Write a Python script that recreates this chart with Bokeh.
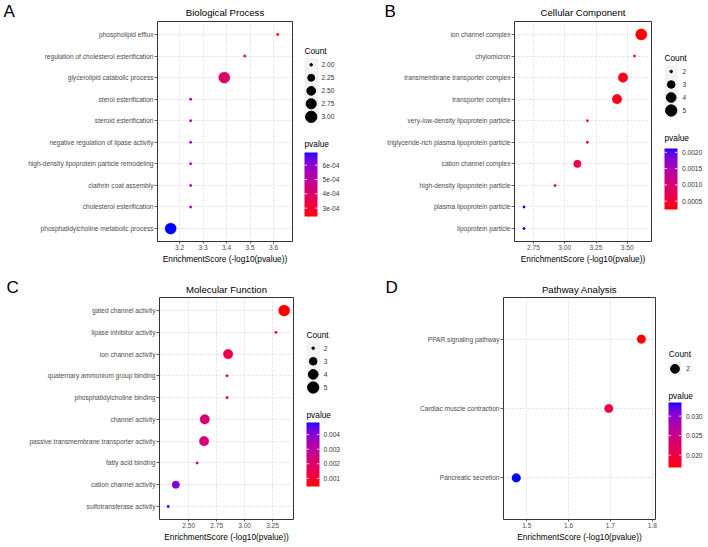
import numpy as np
from bokeh.plotting import figure
from bokeh.models import (Range1d, FixedTicker, PrintfTickFormatter,
                          LinearColorMapper, ColumnDataSource)
from bokeh.layouts import row, column
from bokeh.core.properties import value
from bokeh.embed import file_html
from bokeh.resources import INLINE

FONT = "Liberation Sans"

# ---------------- data ----------------
bp_terms = ["phospholipid efflux", "regulation of cholesterol esterification",
            "glycerolipid catabolic process", "sterol esterification", "steroid esterification",
            "negative regulation of lipase activity", "high-density lipoprotein particle remodeling",
            "clathrin coat assembly", "cholesterol esterification",
            "phosphatidylcholine metabolic process"]
bp_score = [3.617, 3.477, 3.390, 3.247, 3.247, 3.247, 3.247, 3.247, 3.247, 3.162]
bp_count = [2, 2, 3, 2, 2, 2, 2, 2, 2, 3]
bp_xticks = [3.2, 3.3, 3.4, 3.5, 3.6]
bp_count_breaks = [2.0, 2.25, 2.5, 2.75, 3.0]
bp_p_ticks = [3e-4, 4e-4, 5e-4, 6e-4]

cc_terms = ["ion channel complex", "chylomicron", "transmembrane transporter complex",
            "transporter complex", "very-low-density lipoprotein particle",
            "triglyceride-rich plasma lipoprotein particle", "cation channel complex",
            "high-density lipoprotein particle", "plasma lipoprotein particle",
            "lipoprotein particle"]
cc_score = [3.612, 3.558, 3.466, 3.418, 3.181, 3.181, 3.101, 2.922, 2.674, 2.674]
cc_count = [5, 2, 4, 4, 2, 2, 3, 2, 2, 2]
cc_xticks = [2.75, 3.00, 3.25, 3.50]
cc_count_breaks = [2, 3, 4, 5]
cc_p_ticks = [0.0005, 0.0010, 0.0015, 0.0020]

mf_terms = ["gated channel activity", "lipase inhibitor activity", "ion channel activity",
            "quaternary ammonium group binding", "phosphatidylcholine binding",
            "channel activity", "passive transmembrane transporter activity",
            "fatty acid binding", "cation channel activity", "sulfotransferase activity"]
mf_score = [3.354, 3.280, 2.852, 2.843, 2.843, 2.643, 2.637, 2.575, 2.384, 2.316]
mf_count = [5, 2, 4, 2, 2, 4, 4, 2, 3, 2]
mf_xticks = [2.50, 2.75, 3.00, 3.25]
mf_count_breaks = [2, 3, 4, 5]
mf_p_ticks = [0.001, 0.002, 0.003, 0.004]

kg_terms = ["PPAR signaling pathway", "Cardiac muscle contraction", "Pancreatic secretion"]
kg_score = [1.774, 1.696, 1.475]
kg_count = [2, 2, 2]
kg_xticks = [1.5, 1.6, 1.7, 1.8]
kg_count_breaks = [2]
kg_p_ticks = [0.020, 0.025, 0.030]

titles = ["Biological Process", "Cellular Component", "Molecular Function", "Pathway Analysis"]
letters = ["A", "B", "C", "D"]
X_LABEL = "EnrichmentScore (-log10(pvalue))"


# ---------------- colour gradient (Lab interpolation, like ggplot) ----------------
M = np.array([[0.4124564, 0.3575761, 0.1804375],
              [0.2126729, 0.7151522, 0.0721750],
              [0.0193339, 0.1191920, 0.9503041]])
MI = np.linalg.inv(M)
WHITE = np.array([0.95047, 1.0, 1.08883])


def hex_to_lab(h):
    rgb = np.array([int(h[i:i + 2], 16) for i in (1, 3, 5)]) / 255.0
    lin = np.where(rgb <= 0.04045, rgb / 12.92, ((rgb + 0.055) / 1.055) ** 2.4)
    xyz = M @ lin / WHITE
    f = np.where(xyz > 0.008856, np.cbrt(xyz), 7.787 * xyz + 16 / 116)
    return np.array([116 * f[1] - 16, 500 * (f[0] - f[1]), 200 * (f[1] - f[2])])


def lab_to_hex(lab):
    fy = (lab[0] + 16) / 116
    fx = fy + lab[1] / 500
    fz = fy - lab[2] / 200
    f = np.array([fx, fy, fz])
    xyz = np.where(f ** 3 > 0.008856, f ** 3, (f - 16 / 116) / 7.787) * WHITE
    lin = np.clip(MI @ xyz, 0, 1)
    rgb = np.where(lin <= 0.0031308, 12.92 * lin, 1.055 * lin ** (1 / 2.4) - 0.055)
    rgb = np.clip(np.round(rgb * 255), 0, 255).astype(int)
    return "#%02x%02x%02x" % tuple(rgb)


LO, HI = hex_to_lab("#ff0000"), hex_to_lab("#0000ff")
PALETTE = [lab_to_hex(LO + (HI - LO) * t) for t in np.linspace(0, 1, 256)]


def size_of(c, cmin, cmax):
    t = 0.5 if cmax == cmin else (c - cmin) / (cmax - cmin)
    return 1.75 * (1 + 5 * np.sqrt(t)) + 0.8


def blank(x0, w, fig_y, fig_h, top, bottom):
    """Axis-free figure whose frame maps page pixels (x0..x0+w, top..bottom)."""
    q = figure(width=w, height=fig_h, x_range=Range1d(x0, x0 + w),
               y_range=Range1d(bottom, top), x_axis_type=None, y_axis_type=None,
               output_backend="svg", toolbar_location=None, title=None,
               min_border_left=0, min_border_right=0,
               min_border_top=top - fig_y, min_border_bottom=fig_y + fig_h - bottom)
    q.outline_line_color = None
    return q


TXT = dict(text_font=value(FONT), text_baseline="middle", text_align="left")


def build(terms, score, count, xticks, xfmt, xr, fig_box, frame_box, leg_box, leg,
          count_breaks, count_fmt, p_ticks, p_fmt):
    n = len(terms)
    ypos = [n - 1 - i for i in range(n)]
    pv = [10 ** (-s) for s in score]
    pmin, pmax = min(pv), max(pv)
    cmin, cmax = min(count), max(count)
    mapper = LinearColorMapper(palette=PALETTE, low=pmin, high=pmax)
    src = ColumnDataSource(dict(x=score, y=ypos, p=pv,
                                s=[size_of(c, cmin, cmax) for c in count]))
    fx, fy, fw, fh = fig_box
    fl, ft, fr, fb = frame_box
    p = figure(width=fw, height=fh, x_range=Range1d(*xr), y_range=Range1d(-0.6, n - 0.4),
               output_backend="svg", toolbar_location=None, title=None,
               min_border_left=fl - fx, min_border_right=fx + fw - fr,
               min_border_top=ft - fy, min_border_bottom=fy + fh - fb)
    p.xaxis.ticker = FixedTicker(ticks=xticks)
    p.xaxis.formatter = PrintfTickFormatter(format=xfmt)
    p.yaxis.ticker = FixedTicker(ticks=ypos)
    p.yaxis.major_label_overrides = {y: t for y, t in zip(ypos, terms)}
    for ax in (p.xaxis[0], p.yaxis[0]):
        ax.axis_line_color = None
        ax.major_tick_line_color = "#333333"
        ax.major_tick_line_width = 0.8
        ax.major_tick_in = 0
        ax.minor_tick_line_color = None
        ax.major_label_text_font = FONT
        ax.major_label_text_font_size = "6.6px"
        ax.major_label_text_color = "#4D4D4D"
    p.yaxis.major_tick_out = 3
    p.yaxis.major_label_standoff = 1
    p.xaxis.major_tick_out = 2
    p.xaxis.major_label_standoff = 1
    p.xaxis.axis_label = X_LABEL
    p.xaxis.axis_label_text_font = FONT
    p.xaxis.axis_label_text_font_size = "8.3px"
    p.xaxis.axis_label_text_font_style = "normal"
    p.xaxis.axis_label_text_color = "black"
    p.xaxis.axis_label_standoff = 1
    for g in (p.xgrid[0], p.ygrid[0]):
        g.grid_line_color = "#C8C8C8"
        g.grid_line_dash = "2 2"
        g.grid_line_width = 0.6
    p.outline_line_color = "#333333"
    p.outline_line_width = 1
    p.scatter("x", "y", source=src, size="s",
              fill_color={"field": "p", "transform": mapper},
              line_color={"field": "p", "transform": mapper}, line_width=0.3)

    # ---- legend figure (frame mapped to page pixels, same vertical frame as panel) ----
    lx, lw = leg_box
    q = blank(lx, lw, fy, fh, ft, fb)
    q.text(x=[leg["ct"][0]], y=[leg["ct"][1]], text=["Count"], text_font_size="8.3px",
           text_color="black", **TXT)
    k = len(count_breaks)
    ky = [leg["ky0"] + i * leg["kstep"] for i in range(k)]
    half = leg["kstep"] / 2
    q.quad(left=[leg["bg"][0]], right=[leg["bg"][1]], top=[ky[0] - half], bottom=[ky[-1] + half],
           fill_color="#F2F2F2", line_color=None)
    q.scatter(x=[leg["kx"]] * k, y=ky, size=[size_of(c, cmin, cmax) for c in count_breaks],
              color="black")
    q.text(x=[leg["lx"]] * k, y=ky, text=[count_fmt % c for c in count_breaks],
           text_font_size="6.6px", text_color="#333333", **TXT)
    q.text(x=[leg["pt"][0]], y=[leg["pt"][1]], text=["pvalue"], text_font_size="8.3px",
           text_color="black", **TXT)
    # colour bar: a pvalue scale laid over the bar's pixel extent
    bl, bt, br, bb = leg["bar"]
    bh, dp = bb - bt, pmax - pmin
    q.extra_y_ranges = {"p": Range1d(pmin - (fb - bb) / bh * dp, pmin + (bb - ft) / bh * dp)}
    grad = np.linspace(pmin, pmax, 256).reshape(-1, 1)
    q.image(image=[grad], x=bl, y=pmin, dw=br - bl, dh=dp, color_mapper=mapper,
            y_range_name="p")
    m = len(p_ticks)
    tl = (br - bl) / 5
    q.segment(x0=[bl] * m, x1=[bl + tl] * m, y0=p_ticks, y1=p_ticks, y_range_name="p",
              line_color="white", line_width=0.8)
    q.segment(x0=[br - tl] * m, x1=[br] * m, y0=p_ticks, y1=p_ticks, y_range_name="p",
              line_color="white", line_width=0.8)
    q.text(x=[leg["bx"]] * m, y=p_ticks, text=[p_fmt % t for t in p_ticks], y_range_name="p",
           text_font_size="6.6px", text_color="#333333", **TXT)
    return p, q


# headers (titles and panel letters)
hTop = blank(0, 708, 0, 21, 0, 21)
hTop.text(x=[224.5, 582.5], y=[11.7, 11.7], text=titles[:2], text_font=value(FONT),
          text_font_size="9.6px", text_align="center", text_baseline="middle",
          text_color="black")
hTop.text(x=[3, 384], y=[11.2, 11.2], text=letters[:2], text_font=value(FONT),
          text_font_size="17px", text_align="left", text_baseline="middle",
          text_color="black")

hBot = blank(0, 708, 272, 25, 272, 297)
hBot.text(x=[226, 579], y=[289, 289], text=titles[2:], text_font=value(FONT),
          text_font_size="9.6px", text_align="center", text_baseline="middle",
          text_color="black")
hBot.text(x=[6, 385], y=[287.3, 287.3], text=letters[2:], text_font=value(FONT),
          text_font_size="17px", text_align="left", text_baseline="middle",
          text_color="black")

pA, lA = build(bp_terms, bp_score, bp_count, bp_xticks, "%.1f", (3.106, 3.68),
               (0, 21, 300, 251), (157, 21, 292, 241), (300, 55),
               dict(ct=(304, 50), ky0=64.3, kstep=13, kx=310.7, lx=321, bg=(304, 317.5),
                    pt=(304, 143), bar=(304, 152, 317, 216), bx=322),
               bp_count_breaks, "%.2f", bp_p_ticks, "%.0e")

pB, lB = build(cc_terms, cc_score, cc_count, cc_xticks, "%.2f", (2.598, 3.694),
               (355, 21, 305, 251), (514, 21, 651, 241), (660, 48),
               dict(ct=(664, 57), ky0=71, kstep=13, kx=670.7, lx=682, bg=(664, 677.3),
                    pt=(664, 137), bar=(664, 148, 677, 209), bx=681.5),
               cc_count_breaks, "%d", cc_p_ticks, "%.4f")

pC, lC = build(mf_terms, mf_score, mf_count, mf_xticks, "%.2f", (2.238, 3.4375),
               (0, 297, 300, 249), (159, 297, 293, 519), (300, 55),
               dict(ct=(306, 334.3), ky0=347.7, kstep=13.1, kx=312.7, lx=323.3, bg=(306, 319.3),
                    pt=(306, 414.3), bar=(306, 422, 319, 486), bx=323),
               mf_count_breaks, "%d", mf_p_ticks, "%.3f")

pD, lD = build(kg_terms, kg_score, kg_count, kg_xticks, "%.1f", (1.4445, 1.8077),
               (355, 297, 308, 249), (503, 297, 655, 519), (663, 45),
               dict(ct=(668.3, 353.3), ky0=368.3, kstep=13.5, kx=674.5, lx=685.7, bg=(668, 681),
                    pt=(668, 395), bar=(668, 402, 681, 467), bx=685.5),
               kg_count_breaks, "%d", kg_p_ticks, "%.3f")

layout = column(hTop, row(pA, lA, pB, lB), hBot, row(pC, lC, pD, lD))
open("out.html", "w").write(file_html(layout, INLINE))
